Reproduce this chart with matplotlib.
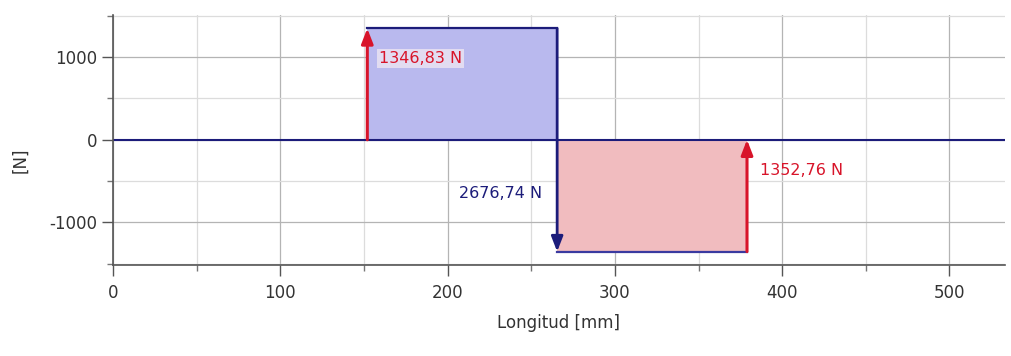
import matplotlib
matplotlib.use("Agg")
import matplotlib.pyplot as plt
from matplotlib.ticker import MultipleLocator

# Data
x_supports = [152, 379]          # mm, reaction positions
reactions = [1346.83, 1352.76]   # N
x_load = 265.5                   # mm
load = 2676.74                   # N
shear_pos = 1346.83              # N, shear between left support and load
shear_neg = -1352.76             # N, shear between load and right support
x_max = 533
labels = ["1346,83 N", "2676,74 N", "1352,76 N"]

navy = "#1c1c7a"
red = "#d8142a"
blue_fill = "#b9b9ee"
red_fill = "#f1bcbf"

plt.rcParams['font.family'] = ['DejaVu Sans']
plt.rcParams['axes.unicode_minus'] = False
fig = plt.figure(figsize=(10.12, 3.56), dpi=100)
ax = fig.add_axes([0.1117, 0.2556, 0.881, 0.7024])

ax.set_xlim(0, x_max)
ax.set_ylim(-1515, 1510)

# fills
ax.fill_between([x_supports[0], x_load], 0, shear_pos, color=blue_fill, lw=0, zorder=1)
ax.fill_between([x_load, x_supports[1]], shear_neg, 0, color=red_fill, lw=0, zorder=1)

# zero line
ax.axhline(0, color=navy, lw=1.5, zorder=2)
# outline
ax.plot([x_supports[0], x_load], [shear_pos, shear_pos], color=navy, lw=1.6, zorder=3)
ax.plot([x_load, x_supports[1]], [shear_neg, shear_neg], color="#3a3aa0", lw=1.6, zorder=3)

# arrows
ax.annotate("", xy=(x_supports[0], reactions[0]), xytext=(x_supports[0], 0),
            arrowprops=dict(arrowstyle="-|>,head_length=0.9,head_width=0.35", color=red, lw=2.2,
                            shrinkA=0, shrinkB=0), zorder=4)
ax.annotate("", xy=(x_load, shear_neg), xytext=(x_load, shear_pos),
            arrowprops=dict(arrowstyle="-|>,head_length=0.9,head_width=0.35", color=navy, lw=2.0,
                            shrinkA=0, shrinkB=0), zorder=4)
ax.annotate("", xy=(x_supports[1], 0), xytext=(x_supports[1], shear_neg),
            arrowprops=dict(arrowstyle="-|>,head_length=0.9,head_width=0.35", color=red, lw=2.2,
                            shrinkA=0, shrinkB=0), zorder=4)

# labels
ax.text(x_supports[0] + 7, 980, labels[0], color=red, fontsize=11.5, va="center", ha="left",
        bbox=dict(facecolor="#fff4f4", alpha=0.6, edgecolor="none", pad=1.5), zorder=5)
ax.text(x_load - 9, -650, labels[1], color=navy, fontsize=11.5, va="center", ha="right", zorder=5)
ax.text(x_supports[1] + 8, -370, labels[2], color=red, fontsize=11.5, va="center", ha="left", zorder=5)

# ticks / grid
ax.xaxis.set_major_locator(MultipleLocator(100))
ax.xaxis.set_minor_locator(MultipleLocator(50))
ax.yaxis.set_major_locator(MultipleLocator(1000))
ax.yaxis.set_minor_locator(MultipleLocator(500))
ax.grid(which="major", color="#b4b4b4", lw=0.9, zorder=0)
ax.grid(which="minor", color="#dcdcdc", lw=0.9, zorder=0)
ax.set_axisbelow(True)
ax.tick_params(which="major", length=8, width=1.0, color="#555555", labelsize=12, labelcolor="#333333")
ax.tick_params(which="minor", length=4, width=1.0, color="#777777")
ax.tick_params(axis="x", pad=6)

for s in ["top", "right"]:
    ax.spines[s].set_visible(False)
for s in ["left", "bottom"]:
    ax.spines[s].set_color("#555555")
    ax.spines[s].set_linewidth(1.2)

ax.set_xlabel("Longitud [mm]", fontsize=12, color="#333333", labelpad=8)
ax.set_ylabel("[N]", fontsize=12, color="#333333")
ax.yaxis.set_label_coords(-0.094, 0.42)

fig.savefig("out.png", dpi=100)
